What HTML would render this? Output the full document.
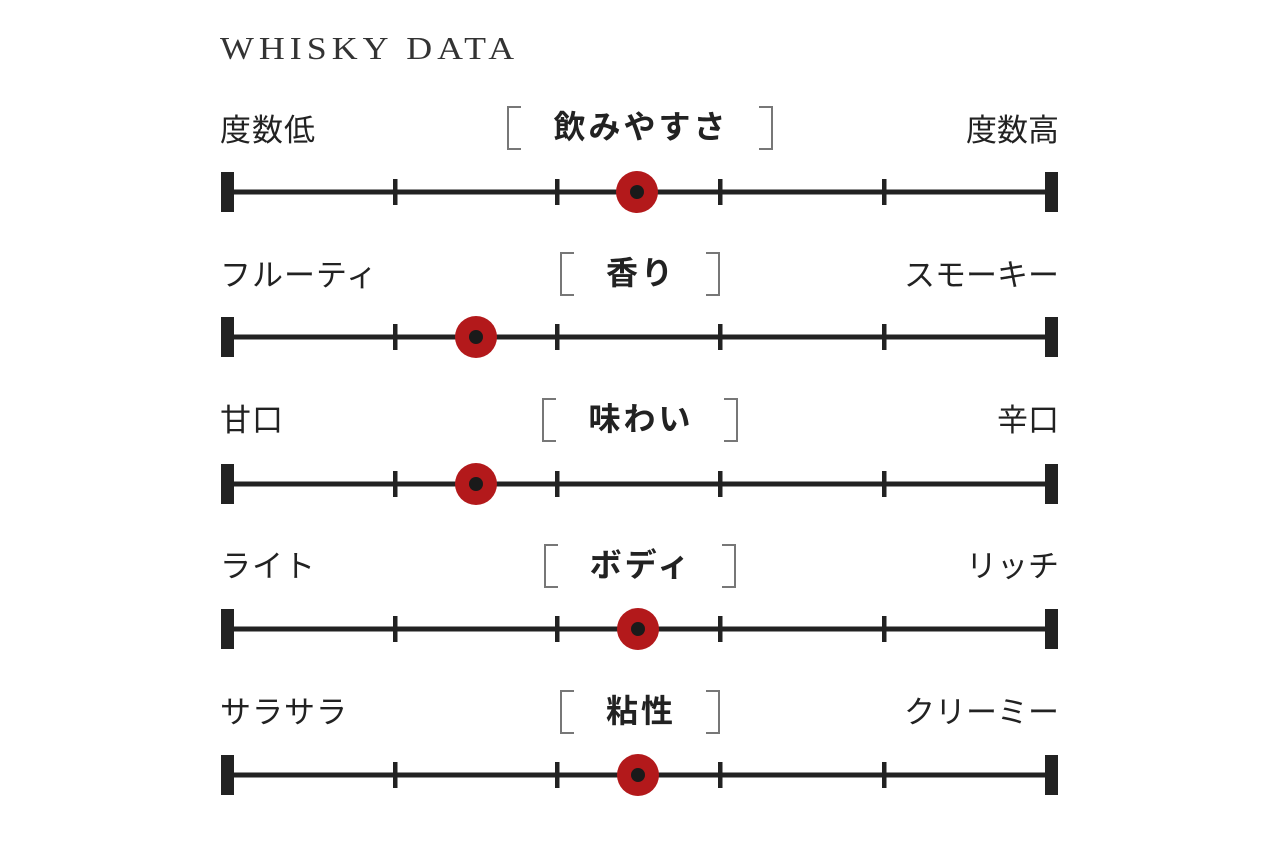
<!DOCTYPE html>
<html><head><meta charset="utf-8"><style>
body{margin:0;width:1280px;height:853px;background:#fff;position:relative;overflow:hidden;font-family:"Liberation Sans","Noto Sans CJK JP",sans-serif;color:#222}
.t{position:absolute;left:220px;top:30px;font-family:"Liberation Serif","Noto Serif CJK SC",serif;font-size:32px;letter-spacing:4.5px;color:#333;transform:scaleX(1.12);transform-origin:left}
.l{position:absolute;font-size:31px;line-height:40px;white-space:nowrap;letter-spacing:1px}
.r{text-align:right;right:221px;letter-spacing:0}
.c{position:absolute;left:440px;width:400px;text-align:center;font-size:32px;font-weight:bold;line-height:40px;letter-spacing:3px}
.c span{display:inline-block;position:relative;padding:0 44px 0 46px}
.c span:before,.c span:after{content:"";position:absolute;top:-1px;width:12px;height:40px;border:2px solid #777}
.c span:before{left:0;border-right:none}
.c span:after{right:0;border-left:none}
svg{position:absolute;left:0;top:0}
</style></head><body>
<div class="t">WHISKY DATA</div>
<div class="l" style="left:220px;top:111px">度数低</div><div class="l r" style="top:111px">度数高</div>
<div class="c" style="top:107px"><span>飲みやすさ</span></div>
<div class="l" style="left:220px;top:256px">フルーティ</div><div class="l r" style="top:256px">スモーキー</div>
<div class="c" style="top:253px"><span>香り</span></div>
<div class="l" style="left:220px;top:401px">甘口</div><div class="l r" style="top:401px">辛口</div>
<div class="c" style="top:399px"><span>味わい</span></div>
<div class="l" style="left:220px;top:547px">ライト</div><div class="l r" style="top:547px">リッチ</div>
<div class="c" style="top:545px"><span>ボディ</span></div>
<div class="l" style="left:220px;top:693px">サラサラ</div><div class="l r" style="top:693px">クリーミー</div>
<div class="c" style="top:691px"><span>粘性</span></div>
<svg width="1280" height="853">
<defs><g id="bar">
<rect x="222" y="-2.5" width="834" height="5" fill="#222"/>
<rect x="221" y="-20" width="13" height="40" fill="#222"/>
<rect x="1045" y="-20" width="13" height="40" fill="#222"/>
<rect x="393" y="-13" width="4.5" height="26" fill="#222"/>
<rect x="555" y="-13" width="4.5" height="26" fill="#222"/>
<rect x="718" y="-13" width="4.5" height="26" fill="#222"/>
<rect x="882" y="-13" width="4.5" height="26" fill="#222"/>
</g></defs>
<use href="#bar" y="192"/><use href="#bar" y="337"/><use href="#bar" y="484"/><use href="#bar" y="629"/><use href="#bar" y="775"/>
<g fill="#b3191b"><circle cx="637" cy="192" r="21"/><circle cx="476" cy="337" r="21"/><circle cx="476" cy="484" r="21"/><circle cx="638" cy="629" r="21"/><circle cx="638" cy="775" r="21"/></g>
<g fill="#1a1a1a"><circle cx="637" cy="192" r="7"/><circle cx="476" cy="337" r="7"/><circle cx="476" cy="484" r="7"/><circle cx="638" cy="629" r="7"/><circle cx="638" cy="775" r="7"/></g>
</svg>
</body></html>
